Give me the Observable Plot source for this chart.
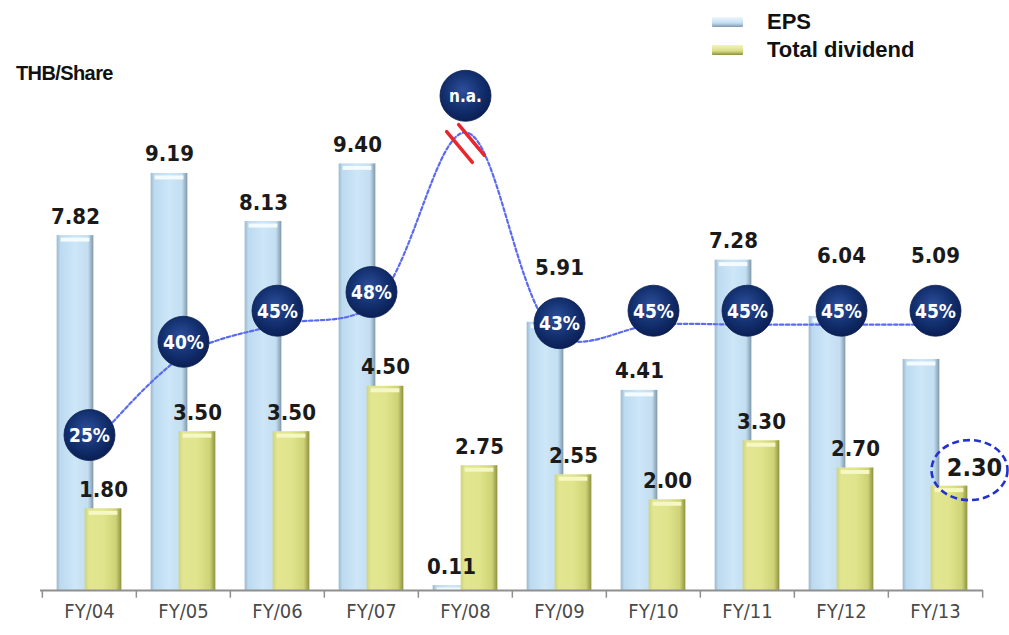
<!DOCTYPE html>
<html><head><meta charset="utf-8">
<script src="https://cdn.jsdelivr.net/npm/d3@7"></script>
<script src="https://cdn.jsdelivr.net/npm/@observablehq/plot@0.6"></script>
<style>
body{margin:0;background:#fff;}
#wrap{position:relative;width:1009px;height:635px;overflow:hidden;}
#wrap svg{position:absolute;left:0;top:0;}
.unit{position:absolute;left:16px;top:62px;font:bold 20px "Liberation Sans",Arial,sans-serif;letter-spacing:-0.6px;color:#111;z-index:2;}
.legend{position:absolute;left:712px;top:8px;font:bold 22px "Liberation Sans",Arial,sans-serif;color:#111;z-index:2;}
.item{display:flex;align-items:center;height:28px;}
.sw{width:31px;height:10px;margin-right:24px;border-radius:1px;}
.sw.eps{background:linear-gradient(#eef7fd,#c4def1 60%,#7f98ad);}
.sw.div{background:linear-gradient(#f3f5b8,#d9dd83 60%,#8a8e3e);}
</style></head>
<body>
<div id="wrap">
  <div class="unit">THB/Share</div>
  <div class="legend">
    <div class="item"><span class="sw eps"></span>EPS</div>
    <div class="item"><span class="sw div"></span>Total dividend</div>
  </div>
</div>
<script>
// ---- data ----
const years = ["FY/04","FY/05","FY/06","FY/07","FY/08","FY/09","FY/10","FY/11","FY/12","FY/13"];
const eps = [7.82, 9.19, 8.13, 9.40, 0.11, 5.91, 4.41, 7.28, 6.04, 5.09];
const dividend = [1.80, 3.50, 3.50, 4.50, 2.75, 2.55, 2.00, 3.30, 2.70, 2.30];
const payout = [25, 40, 45, 48, null, 43, 45, 45, 45, 45]; // dividend payout ratio, %
const payoutAxisTop = 13.7;   // hidden secondary axis: 100 % payout sits at this THB level
const naBadgeLevel = 10.9;    // level of the "n.a." badge (off the payout scale)
const naLineLevel = 10.4;     // level of the line's peak at the n.a. year
const breakLevel = 9.85;      // level of the red axis-break marks
const highlightYear = "FY/13";

const rows = years.map((year, i) => {
  const p = payout[i];
  const badge = p == null ? naBadgeLevel : p / 100 * payoutAxisTop;
  return {
    year, eps: eps[i], dividend: dividend[i], payout: p,
    label: p == null ? "n.a." : p + "%",
    badge,
    line: p == null ? naLineLevel : badge,
    // EPS label would collide with the payout badge -> lift it above the badge
    lift: eps[i] > badge - 1.3 && eps[i] < badge + 0.5
  };
});
const breakRows = [{year: "FY/08", v: breakLevel}];

const W = 1009, H = 635, mL = 40, mR = 26, mB = 45;
const bw = (W - mL - mR) / years.length;
const barW = 37;
const inset = (bw - barW) / 2;
const off = 14;
const numFont = '"DejaVu Sans Condensed","DejaVu Sans",sans-serif';

const slash = {draw(ctx, l) { ctx.moveTo(0, 0); ctx.lineTo(0, -l); }};
const ellipse = {draw(ctx) {
  const rx = 38, ry = 30, k = 0.5523;
  ctx.moveTo(rx, 0);
  ctx.bezierCurveTo(rx, ry * k, rx * k, ry, 0, ry);
  ctx.bezierCurveTo(-rx * k, ry, -rx, ry * k, -rx, 0);
  ctx.bezierCurveTo(-rx, -ry * k, -rx * k, -ry, 0, -ry);
  ctx.bezierCurveTo(rx * k, -ry, rx, -ry * k, rx, 0);
  ctx.closePath();
}};
const labelStyle = {fontSize: 22, fontWeight: "bold", fill: "#1a1a1a"};

const chart = Plot.plot({
  width: W, height: H,
  marginLeft: mL, marginRight: mR, marginTop: 0, marginBottom: mB,
  x: {type: "band", domain: years, padding: 0, axis: null},
  y: {domain: [0, 13], axis: null},
  style: {fontFamily: numFont, background: "transparent", overflow: "visible"},
  marks: [
    Plot.barY(rows, {x: "year", y: "eps", fill: "url(#gEps)", insetLeft: inset, insetRight: inset, dx: -off}),
    Plot.tickY(rows, {x: "year", y: "eps", stroke: "#f4fbff", strokeWidth: 4, insetLeft: inset + 4, insetRight: inset + 4, dx: -off, dy: 4}),
    Plot.barY(rows, {x: "year", y: "dividend", fill: "url(#gDiv)", insetLeft: inset, insetRight: inset, dx: off}),
    Plot.tickY(rows, {x: "year", y: "dividend", stroke: "#f6f8c4", strokeWidth: 4, insetLeft: inset + 4, insetRight: inset + 4, dx: off, dy: 4}),
    Plot.ruleY([0], {stroke: "#8f8f8f", strokeWidth: 2}),
    Plot.ruleX(years, {x: d => d, y1: 0, y2: -0.17, dx: -bw / 2, stroke: "#8f8f8f", strokeWidth: 1.5}),
    Plot.ruleX(years.slice(-1), {x: d => d, y1: 0, y2: -0.17, dx: bw / 2, stroke: "#8f8f8f", strokeWidth: 1.5}),
    Plot.text(years, {x: d => d, frameAnchor: "bottom", dy: 27, fontSize: 20, fill: "#4a4a4a"}),
    Plot.line(rows, {x: "year", y: "line", curve: "catmull-rom", stroke: "#5b6bf0", strokeWidth: 2.2, strokeDasharray: "3.5,2.5", dy: 14}),
    Plot.vector(breakRows, {x: "year", y: "v", length: 40, rotate: -40, anchor: "middle", shape: slash, stroke: "#e8262b", strokeWidth: 3.5, dx: -6, dy: 3.5}),
    Plot.vector(breakRows, {x: "year", y: "v", length: 40, rotate: -40, anchor: "middle", shape: slash, stroke: "#e8262b", strokeWidth: 3.5, dx: 6, dy: -3.5}),
    Plot.dot(rows, {x: "year", y: "badge", r: 25.5, fill: "url(#gBadge)", stroke: "#0a1d52", strokeWidth: 0.8}),
    Plot.text(rows.filter(d => d.payout != null), {x: "year", y: "badge", text: "label", fill: "white", fontWeight: "bold", fontSize: 19, dy: 1}),
    Plot.text(rows.filter(d => d.payout == null), {x: "year", y: "badge", text: "label", fill: "white", fontWeight: "bold", fontSize: 17, dy: 1}),
    Plot.text(rows.filter(d => !d.lift), {x: "year", y: "eps", text: d => d.eps.toFixed(2), dx: -off, dy: -12, lineAnchor: "bottom", ...labelStyle}),
    Plot.text(rows.filter(d => d.lift), {x: "year", y: "badge", text: d => d.eps.toFixed(2), dy: -55, lineAnchor: "middle", ...labelStyle}),
    Plot.text(rows.filter(d => d.year !== highlightYear), {x: "year", y: "dividend", text: d => d.dividend.toFixed(2), dx: off, dy: -12, lineAnchor: "bottom", ...labelStyle}),
    Plot.text(rows.filter(d => d.year === highlightYear), {x: "year", y: "dividend", text: d => d.dividend.toFixed(2), dx: 39, dy: -18, lineAnchor: "middle", ...labelStyle, fontSize: 25}),
    Plot.dot(rows.filter(d => d.year === highlightYear), {x: "year", y: "dividend", symbol: ellipse, r: 10, fill: "none", stroke: "#2430d0", strokeWidth: 2.6, strokeDasharray: "7,4", dx: 34, dy: -16})
  ]
});

d3.select(chart).insert("defs", ":first-child").html(`
  <linearGradient id="gEps" x1="0" x2="1" y1="0" y2="0">
    <stop offset="0" stop-color="#9db8cd"/>
    <stop offset="0.1" stop-color="#bcdaf0"/>
    <stop offset="0.5" stop-color="#cde6f8"/>
    <stop offset="0.85" stop-color="#c3def2"/>
    <stop offset="1" stop-color="#8097aa"/>
  </linearGradient>
  <linearGradient id="gDiv" x1="0" x2="1" y1="0" y2="0">
    <stop offset="0" stop-color="#cfd47c"/>
    <stop offset="0.12" stop-color="#e2e690"/>
    <stop offset="0.5" stop-color="#e0e48d"/>
    <stop offset="0.85" stop-color="#cfd376"/>
    <stop offset="1" stop-color="#8e923f"/>
  </linearGradient>
  <radialGradient id="gBadge" cx="0.45" cy="0.4" r="0.6">
    <stop offset="0" stop-color="#2d4f9c"/>
    <stop offset="0.6" stop-color="#13306f"/>
    <stop offset="1" stop-color="#0b1f55"/>
  </radialGradient>
`);

document.getElementById("wrap").appendChild(chart);
</script>
</body></html>
